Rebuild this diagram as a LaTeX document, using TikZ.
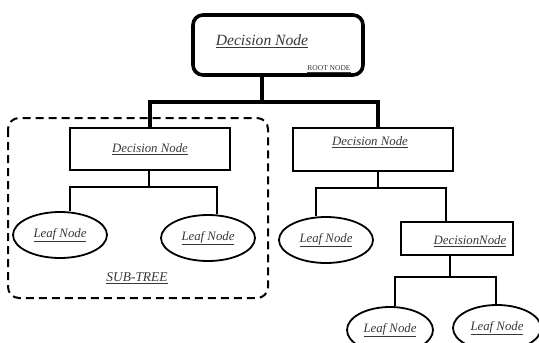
\documentclass[tikz,border=0pt]{standalone}
\usepackage{fontspec}
\setmainfont{Liberation Serif}
\usetikzlibrary{positioning}
\usetikzlibrary{shapes.geometric}
\definecolor{inkgray}{RGB}{55,55,55}
\newcommand{\ul}[1]{\underline{#1}}

\begin{document}
\begin{tikzpicture}[x=1pt, y=-1pt,
    decbox/.style={draw, line width=2.2pt, inner sep=0pt},
    leaf/.style={draw, ellipse, line width=1.8pt, inner sep=0pt,
        minimum width=94pt, minimum height=46pt},
    lbl/.style={text=inkgray, font=\fontsize{12.8}{14}\selectfont\itshape},
    trunk/.style={line width=3.6pt},
    branch/.style={line width=2.2pt}]
    \useasboundingbox (0,0) rectangle (539,343);

    % root
    \node[draw, line width=3.6pt, rounded corners=10pt, minimum width=170pt,
        minimum height=60pt] (root) at (278,45) {};
    \node[lbl, font=\fontsize{15.6}{17}\selectfont\itshape] (roottxt) at (262,41) {\ul{Decision Node}};
    \node[text=inkgray, font=\fontsize{7.5}{8}\selectfont] (roottag) at (329,69) {\ul{ROOT NODE}};

    % sub-tree frame
    \draw[line width=2pt, dash pattern=on 8pt off 5pt, rounded corners=11pt]
        (8,118) rectangle (268,298);
    \node[lbl, font=\fontsize{13.4}{15}\selectfont\itshape] (subtxt) at (137,278) {\ul{SUB-TREE}};

    % decision nodes
    \node[decbox, minimum width=160pt, minimum height=42pt, lbl] (d1) at (150,149) {\ul{Decision Node}};
    \node[decbox, minimum width=160pt, minimum height=43pt] (d2) at (373,149.5) {};
    \node[lbl] (d2txt) at (370,142) {\ul{Decision Node}};
    \node[decbox, minimum width=112pt, minimum height=33pt] (d3) at (457,238.5) {};
    \node[lbl] (d3txt) at (470,241) {\ul{DecisionNode}};

    % leaves
    \node[leaf, lbl] (l1) at (60,235) {\ul{Leaf Node}};
    \node[leaf, lbl] (l2) at (208,238) {\ul{Leaf Node}};
    \node[leaf, lbl] (l3) at (326,240) {\ul{Leaf Node}};
    \node[leaf, lbl, minimum width=86pt] (l4) at (390,330) {\ul{Leaf Node}};
    \node[leaf, lbl, minimum width=88pt] (l5) at (497,328) {\ul{Leaf Node}};

    % connectors
    \coordinate (j0) at (262,102);
    \coordinate (j1) at (149,187);
    \coordinate (j1l) at (70,187);
    \coordinate (j1r) at (217,187);
    \coordinate (j2) at (378,188);
    \coordinate (j2l) at (316,188);
    \coordinate (j2r) at (446,188);
    \coordinate (j3) at (450,277);
    \coordinate (j3l) at (395,277);
    \coordinate (j3r) at (496,277);

    \draw[trunk] (j0 |- root.south) -- (j0);
    \draw[trunk] (d1.north) |- (j0) -| ([xshift=5pt]d2.north);

    \draw[branch] (j1 |- d1.south) -- (j1);
    \draw[branch] (j1l |- l1.north) -- (j1l) -- (j1r) -- (j1r |- l2.north);

    \draw[branch] (j2 |- d2.south) -- (j2);
    \draw[branch] (j2l |- l3.north) -- (j2l) -- (j2r) -- (j2r |- d3.north);

    \draw[branch] (j3 |- d3.south) -- (j3);
    \draw[branch] (j3l |- l4.north) -- (j3l) -- (j3r) -- (j3r |- l5.north);
\end{tikzpicture}
\end{document}
